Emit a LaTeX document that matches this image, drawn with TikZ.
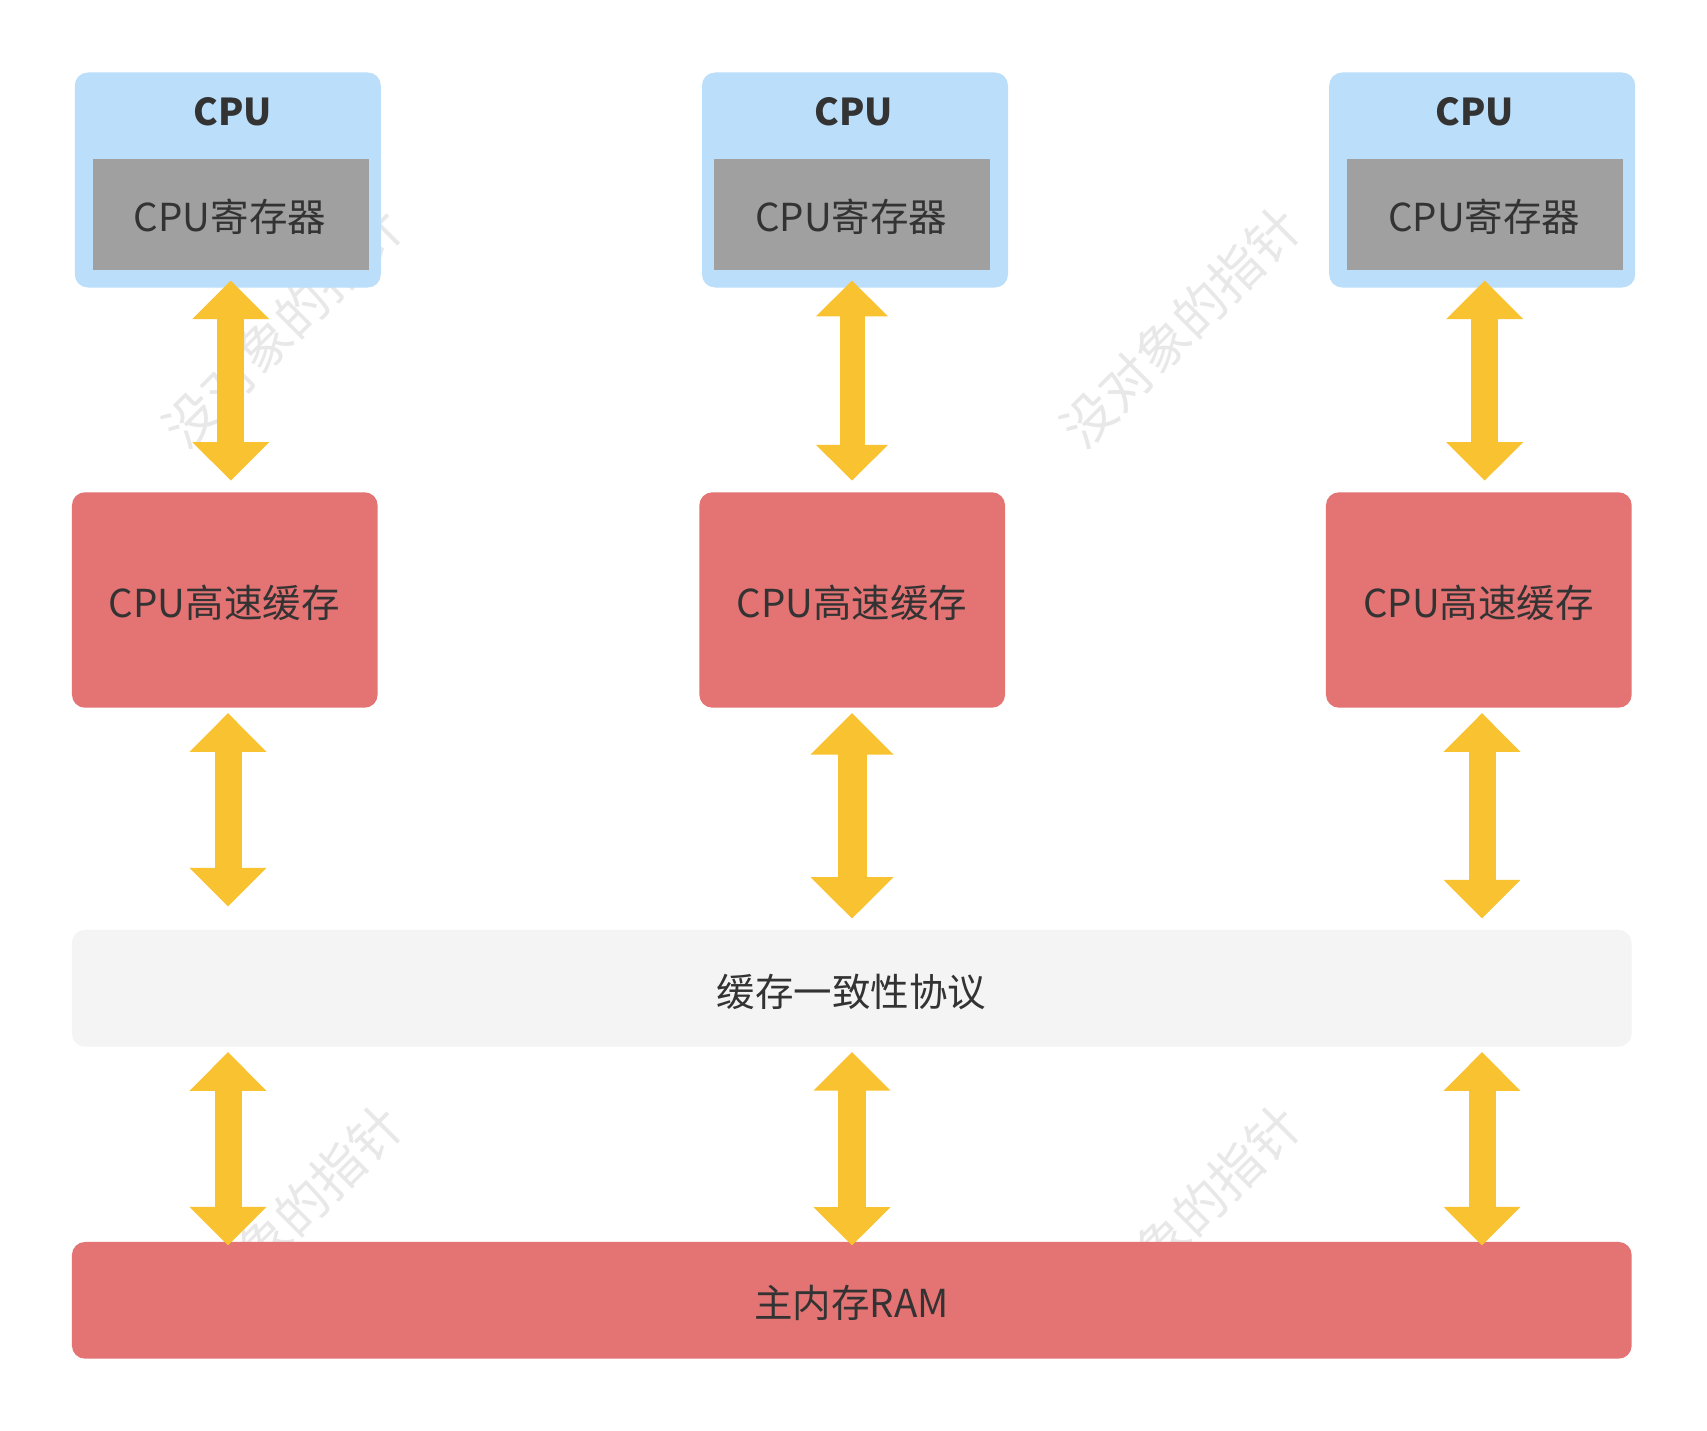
\documentclass[tikz,border=0pt]{standalone}
\usepackage{fontspec}
\setmainfont{Noto Sans CJK SC}
\usetikzlibrary{arrows.meta,calc}
\definecolor{cpublue}{HTML}{BBDEFA}
\definecolor{reggray}{HTML}{A0A0A0}
\definecolor{cachered}{HTML}{E47373}
\definecolor{arrowc}{HTML}{F9C230}
\definecolor{protoc}{HTML}{F4F4F4}
\definecolor{textc}{HTML}{333333}
\definecolor{wmc}{HTML}{E8E8E8}
\tikzset{
  box/.style={rounded corners=13pt, inner sep=0pt, text=textc, minimum width=#1},
  cpubox/.style={box=306pt, fill=cpublue, minimum height=215pt},
  regbox/.style={inner sep=0pt, fill=reggray, minimum width=276pt, minimum height=110.7pt},
  cachebox/.style={box=305.7pt, fill=cachered, minimum height=215.4pt},
  widebox/.style={box=1559.7pt, minimum height=116.7pt},
  lbl/.style={inner sep=0pt, text=textc, font=\fontsize{38.5}{44}\selectfont},
  cpulbl/.style={inner sep=0pt, text=textc, font=\fontsize{37}{44}\selectfont\bfseries},
  wm/.style={inner sep=0pt, text=wmc, rotate=45, font=\fontsize{52}{60}\selectfont},
  dblarr/.style n args={3}{line width=#3pt, draw=arrowc,
    preaction={draw=arrowc, line width=#3pt, arrows=-, shorten <=20pt, shorten >=20pt},
    arrows={Triangle[width=#1pt,length=#2pt,line width=0pt]-Triangle[width=#1pt,length=#2pt,line width=0pt]}}
}
\begin{document}
\begin{tikzpicture}[x=1pt,y=-1pt]
\useasboundingbox (0,0) rectangle (1707,1431);
\fill[white] (0,0) rectangle (1707,1431);

% watermarks (behind everything)
\node[wm] (wm1) at (283,327) {没对象的指针};
\node[wm] (wm2) at (1181,327) {没对象的指针};
\node[wm] (wm3) at (283,1225) {没对象的指针};
\node[wm] (wm4) at (1181,1225) {没对象的指针};

% CPU boxes
\node[cpubox] (cpu1) at (227.8,180) {};
\node[cpubox] (cpu2) at (855,180) {};
\node[cpubox] (cpu3) at (1482.2,180) {};
\node[cpulbl] (cpul1) at (232.5,111.7) {CPU};
\node[cpulbl] (cpul2) at (854,111.7) {CPU};
\node[cpulbl] (cpul3) at (1475,111.7) {CPU};
\node[regbox] (reg1) at (231,214.3) {};
\node[regbox] (reg2) at (852,214.3) {};
\node[regbox] (reg3) at (1485,214.3) {};
\node[lbl] (regl1) at (230,216.5) {CPU寄存器};
\node[lbl] (regl2) at (851.3,216.5) {CPU寄存器};
\node[lbl] (regl3) at (1484.3,216.5) {CPU寄存器};

% cache boxes
\node[cachebox] (cache1) at (224.8,600) {};
\node[cachebox] (cache2) at (852.2,600) {};
\node[cachebox] (cache3) at (1478.8,600) {};
\node[lbl] (cachel1) at (224.2,603.3) {CPU高速缓存};
\node[lbl] (cachel2) at (851.8,603.3) {CPU高速缓存};
\node[lbl] (cachel3) at (1478.5,603.3) {CPU高速缓存};

% protocol and RAM
\node[widebox, fill=protoc] (proto) at (851.8,988.3) {};
\node[lbl] (protol) at (851.7,991.7) {缓存一致性协议};
\node[widebox, fill=cachered] (ram) at (851.8,1300.3) {};
\node[lbl] (raml) at (851.7,1303) {主内存RAM};

% arrows CPU <-> cache
\draw[dblarr={77}{38.4}{27}] ($(cpu1.south)+(3,-7)$) -- ($(cache1.north)+(6,-11.6)$);
\draw[dblarr={72}{35.6}{25}] ($(cpu2.south)+(-3,-7)$) -- ($(cache2.north)+(-0.2,-11.6)$);
\draw[dblarr={77}{38.4}{27}] ($(cpu3.south)+(2.5,-7)$) -- ($(cache3.north)+(5.9,-11.6)$);

% arrows cache <-> protocol
\draw[dblarr={77}{38.7}{27}] ($(cache1.south)+(3.2,5.3)$) -- ($(proto.north -| cache1.south)+(3.2,-23.3)$);
\draw[dblarr={83}{41.3}{29}] ($(cache2.south)+(-0.2,5.3)$) -- ($(proto.north -| cache2.south)+(-0.2,-11.3)$);
\draw[dblarr={77}{38.7}{27}] ($(cache3.south)+(3.2,5.3)$) -- ($(proto.north -| cache3.south)+(3.2,-11.3)$);

% arrows protocol <-> RAM
\draw[dblarr={77}{38.7}{27}] ($(proto.south -| cache1.south)+(3.2,5.3)$) -- ($(ram.north -| cache1.south)+(3.2,3.7)$);
\draw[dblarr={77}{38.4}{28}] ($(proto.south -| cache2.south)+(-0.2,5.3)$) -- ($(ram.north -| cache2.south)+(-0.2,3.7)$);
\draw[dblarr={77}{38.7}{27}] ($(proto.south -| cache3.south)+(3.2,5.3)$) -- ($(ram.north -| cache3.south)+(3.2,3.7)$);
\end{tikzpicture}
\end{document}
